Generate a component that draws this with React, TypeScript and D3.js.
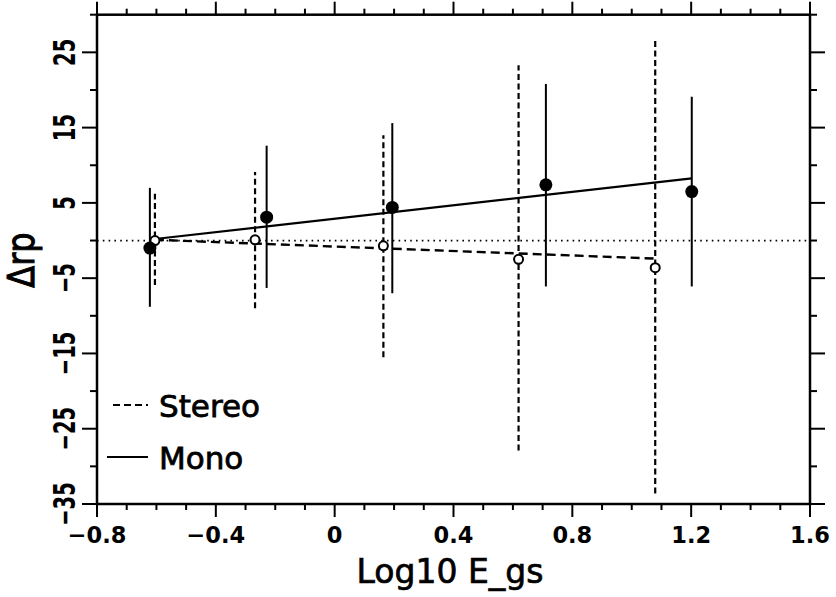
import React from "react";
import * as d3 from "d3";

// Mono (filled circles, solid error bars)
const monoX = [-0.622, -0.229, 0.194, 0.711, 1.202];
const monoY = [-1.0, 3.1, 4.4, 7.4, 6.5];
const monoLo = [-8.8, -6.3, -7.0, -6.1, -6.1];
const monoHi = [7.0, 12.6, 15.6, 20.8, 19.1];

// Stereo (open circles, dashed error bars)
const stereoX = [-0.605, -0.268, 0.164, 0.619, 1.079];
const stereoY = [0.0, 0.1, -0.7, -2.5, -3.6];
const stereoLo = [-5.9, -9.0, -15.5, -27.9, -33.6];
const stereoHi = [6.2, 9.1, 14.0, 23.3, 26.7];

// Fit lines
const monoFitX = [-0.605, 1.202];
const monoFitY = [0.2, 8.25];
const stereoFitX = [-0.605, 1.079];
const stereoFitY = [0.1, -2.4];

// Axes
const xTickLabels = [-0.8, -0.4, 0, 0.4, 0.8, 1.2, 1.6];
const yTickLabels = [25, 15, 5, -5, -15, -25, -35];
const xDomain = [-0.8, 1.6];
const yDomain = [-35, 30];

const FONT = "'DejaVu Sans', 'Noto Sans', sans-serif";

const fmtX = (v: number) => {
  if (v === 0) return "0";
  return (v < 0 ? "\u2212" : "") + Math.abs(v).toFixed(1);
};
const fmtY = (v: number) => (v < 0 ? "\u2212" : "") + Math.abs(v);

export default function App() {
  const L = 97, R = 810, T = 14.7, B = 504;
  const x = d3.scaleLinear().domain(xDomain).range([L, R]);
  const y = d3.scaleLinear().domain(yDomain).range([B, T]);

  const xTicks = d3.range(-8, 17).map((i) => i / 10);
  const yTicks = d3.range(-35, 31, 5);
  const isMajorX = (v: number) => xTickLabels.some((t) => Math.abs(t - v) < 1e-6);
  const isMajorY = (v: number) => yTickLabels.includes(v);

  const line = d3
    .line<[number, number]>()
    .x((d) => x(d[0]))
    .y((d) => y(d[1]));

  const monoFit = line(monoFitX.map((v, i) => [v, monoFitY[i]] as [number, number]));
  const stereoFit = line(stereoFitX.map((v, i) => [v, stereoFitY[i]] as [number, number]));

  const axisW = 2.5;

  return (
    <svg
      width={836}
      height={597}
      style={{ position: "absolute", left: 0, top: 0, background: "#fff" }}
      fontFamily={FONT}
    >
      <rect x={0} y={0} width={836} height={597} fill="#fff" />
      {/* zero dotted line */}
      <line
        x1={L}
        x2={R}
        y1={y(0)}
        y2={y(0)}
        stroke="#000"
        strokeWidth={1.8}
        strokeDasharray="1.6,4.2"
      />

      {/* stereo error bars */}
      {stereoX.map((v, i) => (
        <line
          key={"se" + i}
          x1={x(v)}
          x2={x(v)}
          y1={y(stereoLo[i])}
          y2={y(stereoHi[i])}
          stroke="#000"
          strokeWidth={2.2}
          strokeDasharray="6,3.5"
        />
      ))}
      {/* mono error bars */}
      {monoX.map((v, i) => (
        <line
          key={"me" + i}
          x1={x(v)}
          x2={x(v)}
          y1={y(monoLo[i])}
          y2={y(monoHi[i])}
          stroke="#000"
          strokeWidth={2}
        />
      ))}

      {/* fit lines */}
      <path d={monoFit || ""} fill="none" stroke="#000" strokeWidth={2.2} />
      <path
        d={stereoFit || ""}
        fill="none"
        stroke="#000"
        strokeWidth={2.4}
        strokeDasharray="9,5"
      />

      {/* points */}
      {stereoX.map((v, i) => (
        <circle
          key={"sp" + i}
          cx={x(v)}
          cy={y(stereoY[i])}
          r={4.5}
          fill="#fff"
          stroke="#000"
          strokeWidth={2}
        />
      ))}
      {monoX.map((v, i) => (
        <circle key={"mp" + i} cx={x(v)} cy={y(monoY[i])} r={6.5} fill="#000" />
      ))}

      {/* frame */}
      <rect x={L} y={T} width={R - L} height={B - T} fill="none" stroke="#000" strokeWidth={axisW} />

      {/* x ticks bottom and top */}
      {xTicks.map((v) => {
        const major = isMajorX(v);
        const len = major ? 13 : 6;
        return (
          <g key={"xt" + v}>
            <line x1={x(v)} x2={x(v)} y1={B} y2={B + len} stroke="#000" strokeWidth={2} />
            <line x1={x(v)} x2={x(v)} y1={T} y2={T - len} stroke="#000" strokeWidth={2} />
          </g>
        );
      })}
      {/* y ticks left and right */}
      {yTicks.map((v) => {
        const major = isMajorY(v);
        const len = major ? 15 : 7;
        return (
          <g key={"yt" + v}>
            <line x1={L} x2={L - len} y1={y(v)} y2={y(v)} stroke="#000" strokeWidth={2} />
            <line x1={R} x2={R + len} y1={y(v)} y2={y(v)} stroke="#000" strokeWidth={2} />
          </g>
        );
      })}

      {/* x tick labels */}
      {xTickLabels.map((v) => (
        <text
          key={"xl" + v}
          x={x(v)}
          y={543}
          textAnchor="middle"
          fontSize={22.5}
          fontWeight="bold"
          fill="#000"
        >
          {fmtX(v)}
        </text>
      ))}
      {/* y tick labels */}
      {yTickLabels.map((v) => (
        <text
          key={"yl" + v}
          transform={`translate(75,${y(v)}) rotate(-90) scale(0.75,1.16)`}
          textAnchor="middle"
          fontSize={26}
          fontWeight="bold"
          fill="#000"
        >
          {fmtY(v)}
        </text>
      ))}

      {/* axis titles */}
      <text
        x={450}
        y={583}
        textAnchor="middle"
        fontSize={33}
        fill="#000"
        stroke="#000"
        strokeWidth={0.7}
      >
        Log10 E_gs
      </text>
      <text
        transform={`translate(34,260) rotate(-90) scale(1,1.15)`}
        textAnchor="middle"
        fontSize={32}
        fill="#000"
        stroke="#000"
        strokeWidth={0.9}
      >
        {"\u0394rp"}
      </text>

      {/* legend */}
      <line x1={113} x2={148} y1={405} y2={405} stroke="#000" strokeWidth={2} strokeDasharray="7,4" />
      <text x={159} y={417} fontSize={31} fill="#000" stroke="#000" strokeWidth={0.8}>
        Stereo
      </text>
      <line x1={107} x2={148} y1={457} y2={457} stroke="#000" strokeWidth={2} />
      <text x={159} y={469} fontSize={31} fill="#000" stroke="#000" strokeWidth={0.8}>
        Mono
      </text>
    </svg>
  );
}
